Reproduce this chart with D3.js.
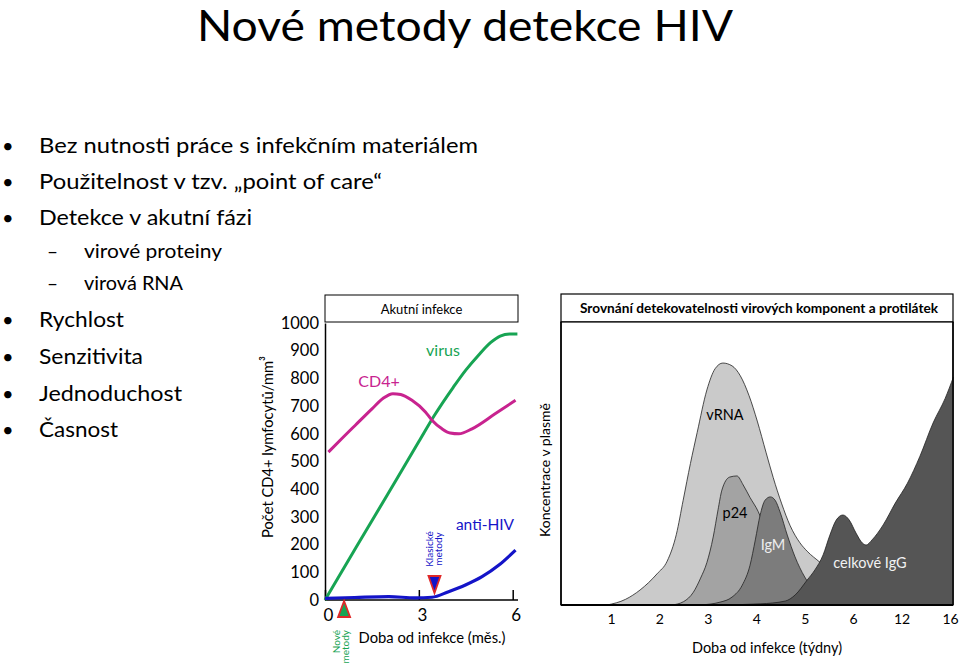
<!DOCTYPE html>
<html><head><meta charset="utf-8">
<script src="https://cdn.jsdelivr.net/npm/d3@7"></script>
<style>
body{margin:0;background:#fff}
svg{display:block;font-family:Lato,"Open Sans",sans-serif}
</style>
</head><body>
<svg id="c" width="960" height="669"></svg>
<script>
// ---------- text content ----------
const titleText = "Nové metody detekce HIV";
const bulletItems = [
  {t:"Bez nutnosti práce s infekčním materiálem", lvl:0, w:439},
  {t:"Použitelnost v tzv. „point of care“", lvl:0, w:343},
  {t:"Detekce v akutní fázi", lvl:0, w:213},
  {t:"virové proteiny", lvl:1, w:138},
  {t:"virová RNA", lvl:1, w:99},
  {t:"Rychlost", lvl:0, w:85},
  {t:"Senzitivita", lvl:0, w:104},
  {t:"Jednoduchost", lvl:0, w:143},
  {t:"Časnost", lvl:0, w:79}
];
const bulletBaselines = [153,189,225,258,290,327,364,401,437];

// ---------- left chart data (months, CD4+ count scale) ----------
const monthTicks = [0,3,6];
const cd4Ticks = [0,100,200,300,400,500,600,700,800,900,1000];
const virus = [[0,0],[1,191],[2,381],[3,572],[3.5,667],[4.1,768],[4.5,830],[4.9,883],[5.3,930],[5.6,953],[5.9,960],[6.15,960]];
const cd4 = [[0.11,534],[0.54,583],[0.97,631],[1.51,691],[1.86,728],[2.17,745],[2.42,742],[2.78,721],[3.21,679],[3.42,649],[3.74,618],[4.0,603],[4.28,600],[4.7,618],[5.45,673],[6.09,721]];
const antiHIV = [[0,6],[0.95,9],[2.04,12],[2.88,8],[3.42,10],[3.95,30],[4.49,54],[5.02,84],[5.56,126],[6.09,180]];
const newMethodMonth = 0.61;
const classicMethodMonth = 3.5;

// ---------- right chart data (week index, relative concentration) ----------
const weekTicks = ["1","2","3","4","5","6","12","16"];
const vRNA = [[-0.08,0],[0.3,2],[0.6,5.3],[0.95,11],[1.16,15.5],[1.35,25],[1.49,37],[1.64,50],[1.78,61],[1.98,76],[2.15,83.5],[2.31,85.5],[2.5,84.5],[2.67,81],[2.85,74],[3.02,65],[3.2,54],[3.35,45],[3.52,36],[3.7,28],[3.9,22],[4.05,19],[4.32,15],[4.7,9],[5.2,3],[5.7,0]];
const p24 = [[1.26,0],[1.5,1.2],[1.7,4.5],[1.85,9.5],[1.98,15],[2.11,24],[2.21,33.6],[2.29,40.6],[2.45,45.2],[2.6,45.6],[2.73,42.4],[2.87,38],[3.04,33],[3.29,21],[3.6,9],[3.9,2],[4.1,0]];
const igM = [[1.84,0],[2.25,1],[2.5,2.8],[2.71,7],[2.87,14],[2.98,23],[3.08,31.8],[3.18,37],[3.29,38.2],[3.39,37],[3.49,32.9],[3.64,24.7],[3.8,17],[4.0,9.9],[4.32,3.5],[4.73,0.7],[5.14,0]];
const igG = [[2.19,0],[3.08,0.4],[3.6,1.4],[3.8,3.5],[4.05,8.8],[4.21,12.4],[4.38,17.7],[4.52,24.7],[4.65,30],[4.79,31.8],[4.92,30],[5.06,25.4],[5.19,21.9],[5.27,21.2],[5.39,23],[5.62,28.3],[5.87,36],[6.12,43],[6.38,52.6],[6.65,64.3],[6.9,73],[7.07,80.5]];

const svg = d3.select("#c");

// ---------- title ----------
svg.append("text").attr("x",465).attr("y",41).attr("text-anchor","middle")
  .attr("font-size",43).attr("font-weight",400).attr("fill","#000")
  .attr("textLength",536).attr("lengthAdjust","spacingAndGlyphs").text(titleText);

// ---------- bullets ----------
const bg = svg.append("g");
bulletItems.forEach((b,i)=>{
  const y = bulletBaselines[i];
  if(b.lvl===0){
    bg.append("text").attr("x",2).attr("y",y).attr("font-size",20).text("•");
    bg.append("text").attr("x",39).attr("y",y).attr("font-size",22)
      .attr("textLength",b.w).attr("lengthAdjust","spacingAndGlyphs").text(b.t);
  } else {
    bg.append("text").attr("x",47).attr("y",y).attr("font-size",19).text("–");
    bg.append("text").attr("x",84).attr("y",y).attr("font-size",19.5)
      .attr("textLength",b.w).attr("lengthAdjust","spacingAndGlyphs").text(b.t);
  }
});

// ---------- left chart ----------
const L = svg.append("g");
const xL = d3.scaleLinear().domain([0,6]).range([325,512.7]);
const yL = d3.scaleLinear().domain([0,1000]).range([600,323]);

L.append("rect").attr("x",325).attr("y",295).attr("width",193).attr("height",27)
  .attr("fill","#fff").attr("stroke","#000").attr("stroke-width",1);
L.append("text").attr("x",421.5).attr("y",313.5).attr("text-anchor","middle")
  .attr("font-size",13).text("Akutní infekce");

const yAxisL = d3.axisLeft(yL).tickValues(cd4Ticks).tickFormat(d3.format("d"))
  .tickSizeInner(0).tickSizeOuter(0).tickPadding(6);
const gyl = L.append("g").attr("transform","translate(325,0)").call(yAxisL);
gyl.select(".domain").attr("stroke","#000").attr("stroke-width",1.5);
gyl.selectAll("text").attr("font-size",16.5).attr("font-family","Lato").attr("fill","#000");

const xAxisL = d3.axisBottom(xL).tickValues(monthTicks).tickFormat(d3.format("d"))
  .tickSizeInner(-10).tickSizeOuter(0).tickPadding(9);
const gxl = L.append("g").attr("transform","translate(0,600)").call(xAxisL);
gxl.select(".domain").attr("stroke","#000").attr("stroke-width",1.5).attr("d","M325,0H518");
gxl.selectAll(".tick line").attr("stroke","#000").attr("stroke-width",1.5);
gxl.selectAll("text").attr("font-size",17).attr("font-family","Lato").attr("fill","#000").attr("dx",3);

L.append("text").attr("transform","translate(273,447) rotate(-90)").attr("text-anchor","middle")
  .attr("font-size",16).attr("textLength",182).attr("lengthAdjust","spacingAndGlyphs")
  .text("Počet CD4+ lymfocytů/mm³");
L.append("text").attr("x",432).attr("y",643).attr("text-anchor","middle")
  .attr("font-size",15).attr("textLength",147).attr("lengthAdjust","spacingAndGlyphs")
  .text("Doba od infekce (měs.)");

const lineL = d3.line().x(d=>xL(d[0])).y(d=>yL(d[1])).curve(d3.curveMonotoneX);
L.append("path").datum(virus).attr("d",lineL).attr("fill","none").attr("stroke","#17a453").attr("stroke-width",3);
L.append("path").datum(cd4).attr("d",lineL).attr("fill","none").attr("stroke","#c8238f").attr("stroke-width",3);
L.append("path").datum(antiHIV).attr("d",lineL).attr("fill","none").attr("stroke","#1414c8").attr("stroke-width",3.2);

L.append("text").attr("x",443).attr("y",355.5).attr("text-anchor","middle").attr("font-size",16).attr("fill","#17a453").text("virus");
L.append("text").attr("x",379).attr("y",386.5).attr("text-anchor","middle").attr("font-size",16).attr("fill","#c8238f").text("CD4+");
L.append("text").attr("x",485).attr("y",529.5).attr("text-anchor","middle").attr("font-size",15.5).attr("fill","#1414c8").text("anti-HIV");

// markers
const nx = xL(newMethodMonth);
L.append("path").attr("d",`M${nx},601 L${nx+6},617 L${nx-6},617 Z`)
  .attr("fill","#17a453").attr("stroke","#e02828").attr("stroke-width",1.8);
const cx = xL(classicMethodMonth);
L.append("path").attr("d",`M${cx-6},576 L${cx+6},576 L${cx},593 Z`)
  .attr("fill","#1414c8").attr("stroke","#e02828").attr("stroke-width",1.8);

L.append("text").attr("transform",`translate(${nx-4},630) rotate(-90)`).attr("text-anchor","end")
  .attr("font-size",10).attr("fill","#17a453").text("Nové");
L.append("text").attr("transform",`translate(${nx+5},630) rotate(-90)`).attr("text-anchor","end")
  .attr("font-size",10).attr("fill","#17a453").text("metody");
L.append("text").attr("transform",`translate(${cx-1.5},549) rotate(-90)`).attr("text-anchor","middle")
  .attr("font-size",10).attr("fill","#1414c8").text("Klasické");
L.append("text").attr("transform",`translate(${cx+7.5},549) rotate(-90)`).attr("text-anchor","middle")
  .attr("font-size",10).attr("fill","#1414c8").text("metody");

// ---------- right chart ----------
const R = svg.append("g");
const xR = d3.scaleLinear().domain([0,7]).range([611,950]);
const yR = d3.scaleLinear().domain([0,100]).range([605,322]);

R.append("rect").attr("x",561).attr("y",294).attr("width",392).attr("height",28)
  .attr("fill","#fff").attr("stroke","#000").attr("stroke-width",1.2);
R.append("text").attr("x",759).attr("y",313).attr("text-anchor","middle")
  .attr("font-size",13).attr("font-weight",700)
  .attr("textLength",358).attr("lengthAdjust","spacingAndGlyphs")
  .text("Srovnání detekovatelnosti virových komponent a protilátek");

R.append("rect").attr("x",561).attr("y",322).attr("width",392).attr("height",283)
  .attr("fill","#fff").attr("stroke","#000").attr("stroke-width",1.2);

const areaR = d3.area().x(d=>xR(d[0])).y0(yR(0)).y1(d=>yR(d[1])).curve(d3.curveMonotoneX);
const lineR = d3.line().x(d=>xR(d[0])).y(d=>yR(d[1])).curve(d3.curveMonotoneX);
const layers = [[vRNA,"#cacaca"],[p24,"#a3a3a3"],[igM,"#7c7c7c"],[igG,"#555555"]];
layers.forEach(([data,col])=>{
  R.append("path").datum(data).attr("d",areaR).attr("fill",col);
  R.append("path").datum(data).attr("d",lineR).attr("fill","none").attr("stroke","#222").attr("stroke-width",0.8);
});
R.append("line").attr("x1",953).attr("x2",953).attr("y1",322).attr("y2",605).attr("stroke","#000").attr("stroke-width",1.5);
R.append("line").attr("x1",561).attr("x2",953).attr("y1",605).attr("y2",605).attr("stroke","#000").attr("stroke-width",2);
R.append("line").attr("x1",561).attr("x2",561).attr("y1",322).attr("y2",605).attr("stroke","#000").attr("stroke-width",1.5);

const xAxisR = d3.axisBottom(xR).tickValues(d3.range(weekTicks.length)).tickFormat(i=>weekTicks[i]).tickSize(0).tickPadding(9);
const gxr = R.append("g").attr("transform","translate(0,605)").call(xAxisR);
gxr.select(".domain").remove();
gxr.selectAll("text").attr("font-size",14).attr("font-family","Lato").attr("fill","#000");

R.append("text").attr("transform","translate(550,470) rotate(-90)").attr("text-anchor","middle")
  .attr("font-size",14).attr("textLength",134).attr("lengthAdjust","spacingAndGlyphs").text("Koncentrace v plasmě");
R.append("text").attr("x",767).attr("y",653).attr("text-anchor","middle")
  .attr("font-size",15).attr("textLength",150).attr("lengthAdjust","spacingAndGlyphs").text("Doba od infekce (týdny)");

R.append("text").attr("x",725).attr("y",420).attr("text-anchor","middle").attr("font-size",14.5).attr("fill","#000").text("vRNA");
R.append("text").attr("x",735).attr("y",518).attr("text-anchor","middle").attr("font-size",14.5).attr("fill","#000").text("p24");
R.append("text").attr("x",773).attr("y",550).attr("text-anchor","middle").attr("font-size",14.5).attr("fill","#eee").text("IgM");
R.append("text").attr("x",870).attr("y",568).attr("text-anchor","middle").attr("font-size",14.5).attr("fill","#f2f2f2").text("celkové IgG");
</script>
</body></html>
